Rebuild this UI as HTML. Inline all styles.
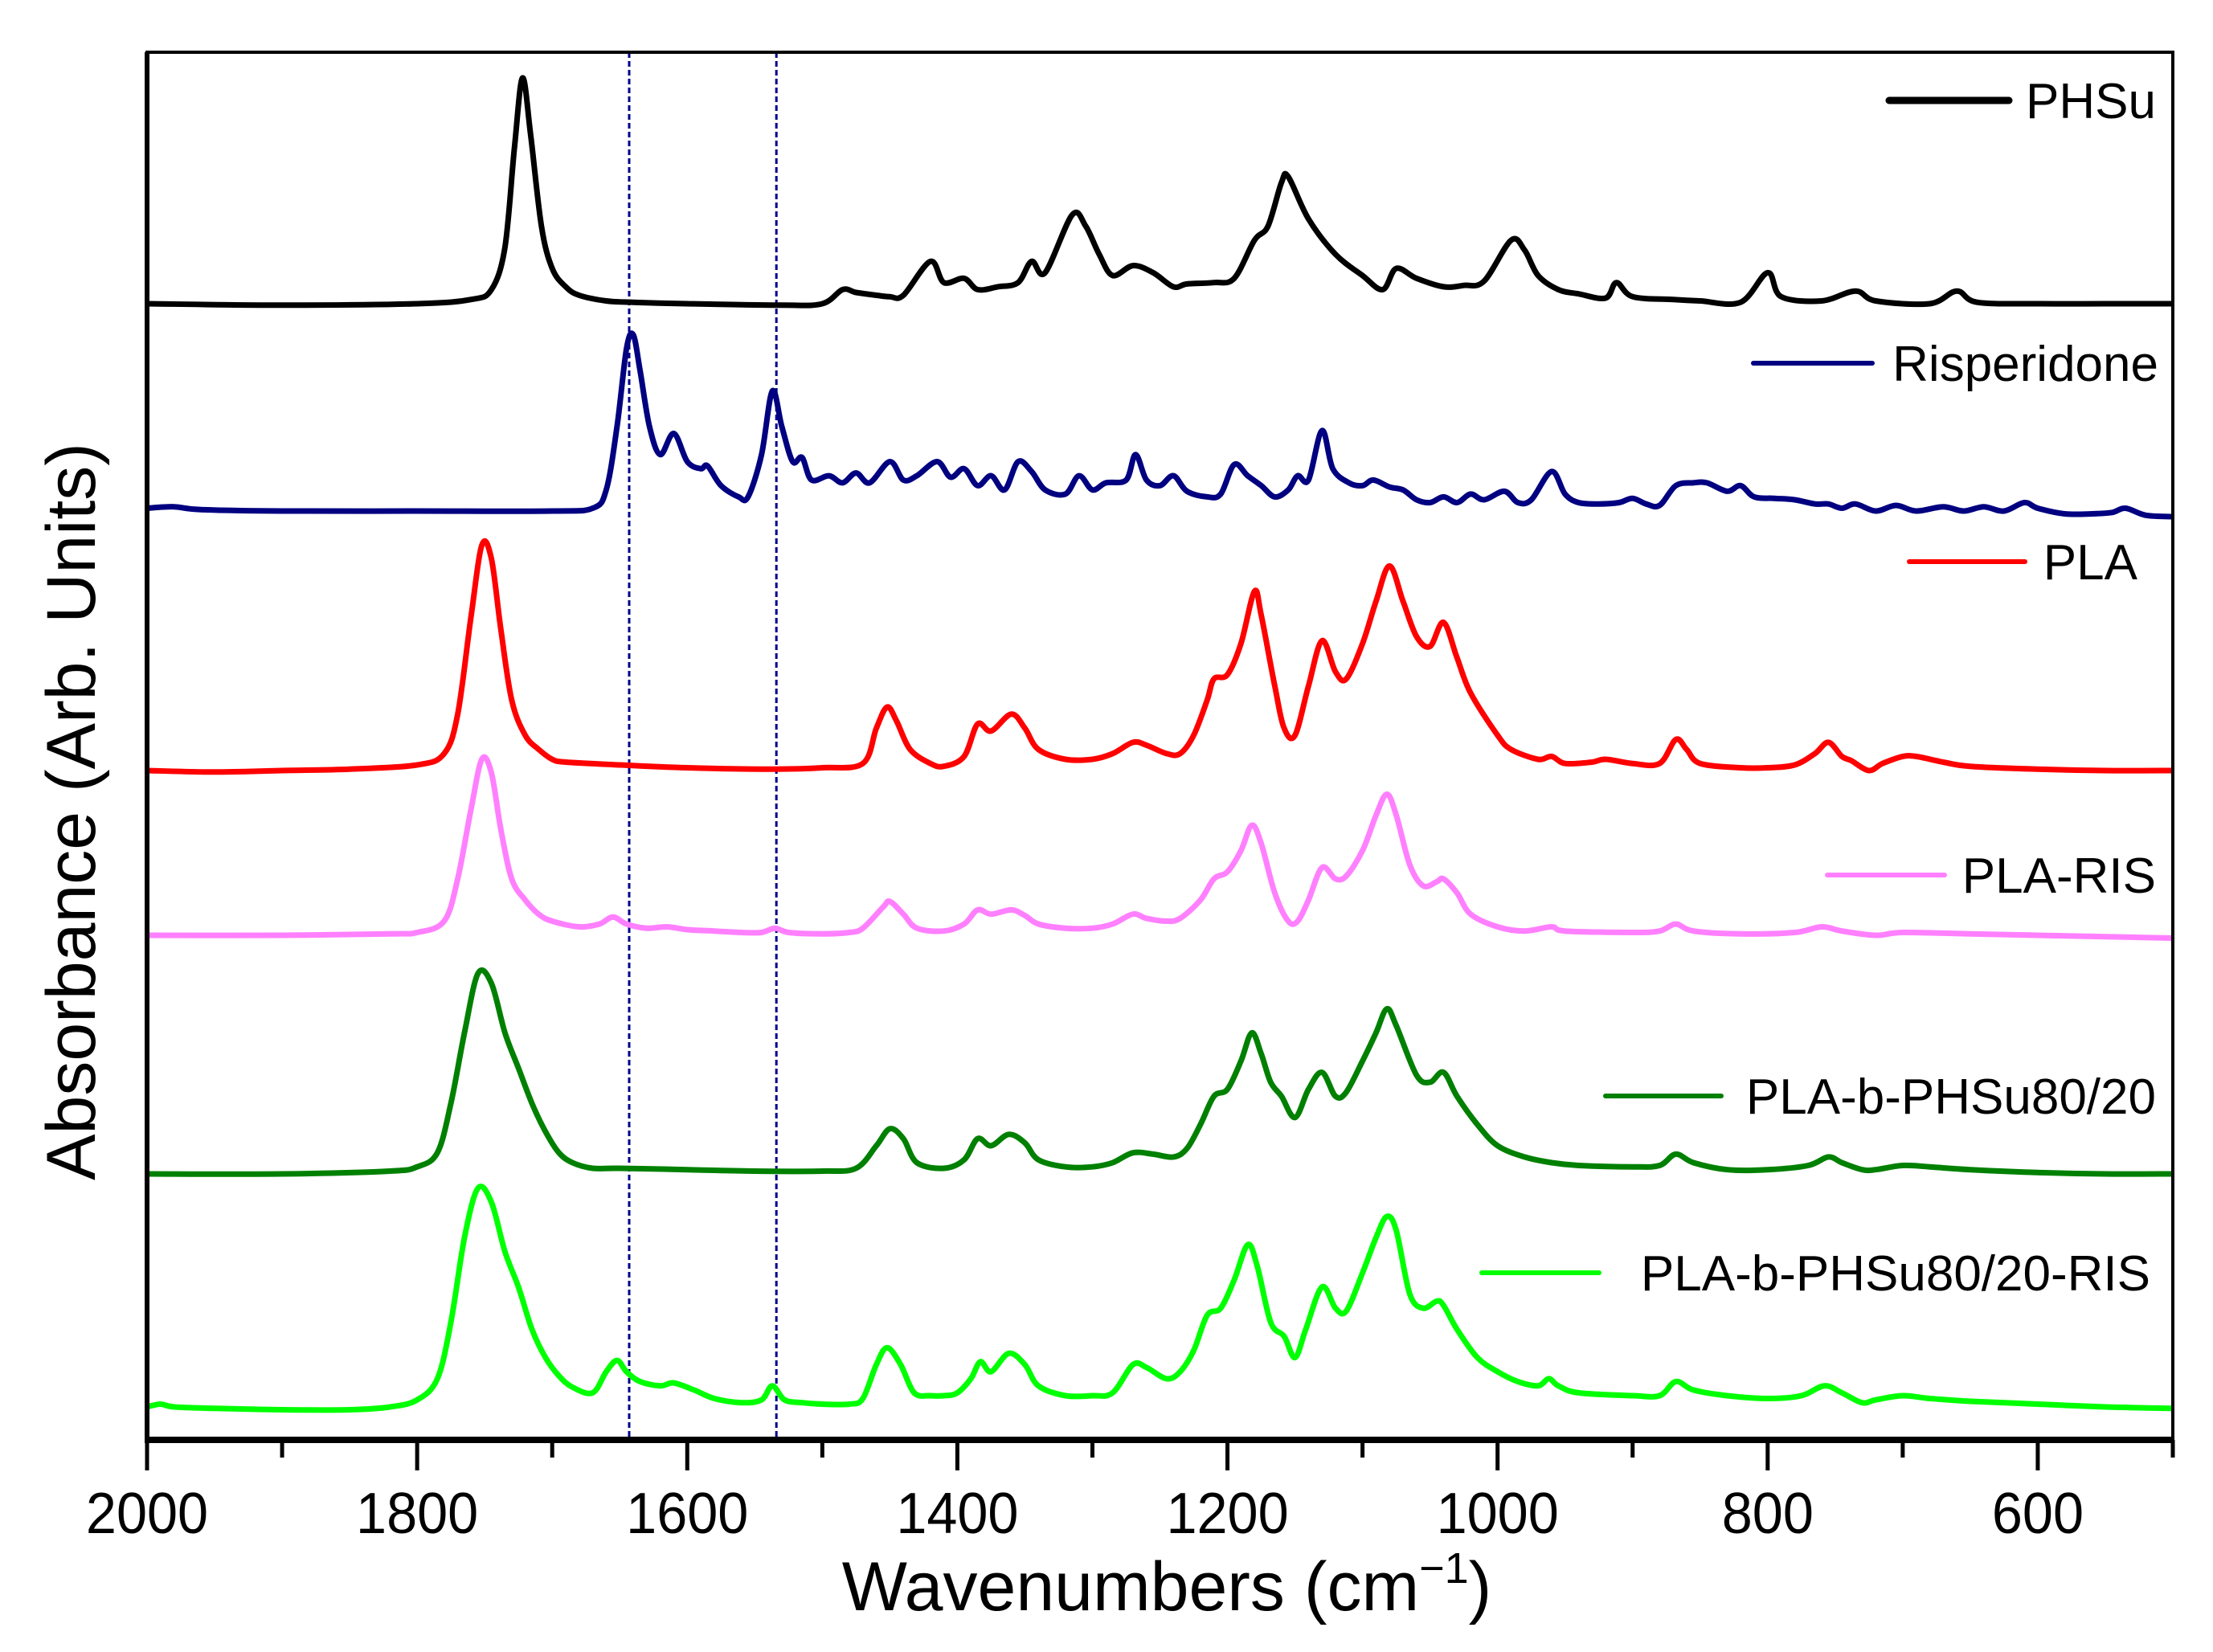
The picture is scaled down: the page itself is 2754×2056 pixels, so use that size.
<!DOCTYPE html>
<html><head><meta charset="utf-8">
<style>
html,body{margin:0;padding:0;background:#fff;}
svg{display:block;}
text{font-family:"Liberation Sans",Arial,sans-serif;}
</style></head>
<body>
<svg id="chart" width="2754" height="2056" viewBox="0 0 2754 2056" xmlns="http://www.w3.org/2000/svg">
<rect x="0" y="0" width="2754" height="2056" fill="#ffffff"/>
<g id="plot"></g>
</svg>
<script>
// ---- data ----
const xTicks = [2000, 1800, 1600, 1400, 1200, 1000, 800, 600];
const xMinor = [1900, 1700, 1500, 1300, 1100, 900, 700, 500];
const markerLines = [1643, 1534];
const seriesNames = ["PHSu", "Risperidone", "PLA", "PLA-RIS", "PLA-b-PHSu80/20", "PLA-b-PHSu80/20-RIS"];
const seriesColors = ["#000000", "#000080", "#ff0000", "#ff80ff", "#008000", "#00ff00"];
const seriesOffsets = [378, 636, 959, 1164, 1461, 1751];

const phsuWn = [2000,1900,1800,1760,1745,1735,1728,1722,1716,1708,1700,1690,1680,1660,1640,1600,1530,1500,1485,1475,1460,1450,1440,1420,1410,1395,1385,1370,1355,1345,1335,1315,1305,1295,1285,1270,1255,1240,1230,1210,1195,1180,1170,1160,1155,1140,1120,1100,1085,1075,1060,1040,1025,1010,990,980,970,955,940,920,912,900,870,850,820,800,790,760,735,720,680,660,645,600,550,500];
const phsuAbs = [0,-1,0,3,10,40,110,160,120,55,25,12,6,2,1,0,-1,0,10,8,6,5,6,30,15,18,10,12,15,30,22,63,55,35,20,27,22,12,14,15,18,45,55,86,90,60,35,20,10,25,18,12,13,16,45,38,20,10,7,4,15,5,3,2,1,22,5,2,9,2,0,9,1,0,0,0];

const risWn = [2000,1980,1960,1900,1800,1700,1670,1660,1652,1645,1640,1635,1628,1620,1610,1600,1590,1585,1575,1562,1555,1545,1537,1530,1522,1515,1508,1495,1485,1475,1465,1450,1440,1430,1415,1405,1395,1385,1375,1365,1355,1345,1335,1320,1310,1300,1290,1275,1268,1260,1250,1240,1230,1215,1205,1195,1185,1175,1165,1155,1148,1140,1130,1122,1110,1100,1092,1080,1070,1060,1050,1040,1030,1020,1010,995,985,975,960,950,940,925,910,900,890,880,868,855,845,830,820,810,795,780,765,755,745,735,720,705,690,670,655,640,625,610,600,580,560,545,535,520,500];
const risAbs = [2,3,1,0,0,0,2,15,60,115,125,100,60,40,55,35,30,32,18,10,10,40,85,60,35,38,22,25,20,27,20,35,22,25,35,24,30,18,25,15,35,28,15,12,25,15,20,22,40,22,18,25,14,10,12,33,25,18,10,15,25,22,57,30,20,18,22,17,15,8,6,10,6,12,8,14,6,8,28,12,6,5,6,9,5,4,18,20,20,14,18,10,9,8,5,5,2,5,0,4,0,3,0,3,0,6,2,-2,-2,-1,2,-3,-4];

const plaWn = [2000,1950,1900,1850,1800,1780,1770,1760,1752,1745,1738,1730,1720,1710,1700,1690,1650,1600,1540,1500,1470,1460,1452,1445,1435,1420,1410,1395,1385,1375,1360,1350,1340,1320,1300,1285,1270,1260,1245,1235,1225,1215,1210,1200,1190,1180,1175,1165,1158,1150,1140,1130,1120,1112,1100,1090,1080,1070,1060,1050,1040,1030,1020,1000,990,970,960,950,930,920,900,880,868,860,850,820,800,780,765,755,745,738,725,715,700,690,670,650,600,550,500];
const plaAbs = [0,-1,0,1,4,12,40,110,160,150,100,50,25,15,8,6,4,2,1,2,5,30,45,35,15,5,3,10,33,28,40,30,15,8,8,12,20,18,12,12,25,50,65,68,90,127,110,60,30,25,60,92,70,65,90,120,145,120,95,88,105,80,55,25,15,8,10,5,6,8,5,5,22,15,5,2,2,4,12,20,10,7,0,5,10,10,6,3,1,0,0];

const plaRisWn = [2000,1900,1820,1800,1780,1770,1760,1752,1745,1738,1730,1720,1710,1700,1680,1665,1655,1645,1630,1615,1600,1580,1560,1545,1535,1525,1500,1480,1470,1455,1450,1440,1430,1410,1395,1385,1375,1360,1350,1340,1320,1300,1285,1270,1260,1245,1235,1220,1210,1200,1190,1182,1175,1165,1155,1148,1140,1130,1120,1112,1100,1090,1082,1075,1065,1055,1045,1040,1030,1020,1000,980,960,950,900,880,868,855,820,780,760,745,720,700,650,600,550,500];
const plaRisAbs = [0,0,1,2,10,40,90,125,115,75,40,25,15,10,6,8,13,8,5,6,4,3,2,2,5,2,1,2,5,20,24,15,5,3,8,18,15,18,14,8,5,5,8,15,12,10,12,25,40,45,60,78,65,30,10,10,25,48,40,42,60,85,100,85,50,35,38,40,30,15,6,3,6,3,2,3,8,3,1,2,6,3,0,2,1,0,-1,-2];

const blendWn = [2000,1900,1820,1800,1785,1775,1765,1755,1745,1735,1725,1715,1705,1695,1685,1670,1650,1600,1550,1500,1475,1460,1450,1440,1430,1410,1395,1385,1375,1362,1350,1340,1320,1300,1285,1270,1255,1240,1230,1220,1210,1200,1190,1182,1175,1168,1160,1150,1140,1130,1120,1112,1100,1090,1082,1075,1060,1050,1040,1030,1015,1000,980,960,940,900,880,868,855,830,800,770,755,745,730,720,700,680,650,600,550,500];
const blendAbs = [0,0,2,5,15,50,100,142,135,100,75,50,30,15,8,4,4,3,2,2,4,20,32,25,8,4,10,25,20,28,22,10,5,5,8,15,14,12,18,35,55,60,80,100,85,65,55,40,60,72,55,58,80,100,117,105,70,65,72,55,35,20,12,8,6,5,6,14,8,3,3,6,12,8,3,3,6,5,3,1,0,0];

const blendRisWn = [2000,1990,1980,1950,1900,1850,1820,1800,1785,1775,1765,1755,1745,1735,1725,1715,1705,1695,1685,1670,1660,1652,1645,1635,1620,1610,1595,1580,1560,1545,1537,1528,1515,1500,1480,1470,1460,1452,1442,1432,1420,1410,1400,1390,1383,1375,1362,1350,1340,1320,1300,1285,1270,1260,1245,1235,1225,1215,1205,1195,1185,1178,1168,1158,1150,1142,1130,1120,1112,1100,1090,1082,1075,1065,1055,1045,1040,1030,1015,1000,985,970,962,955,940,900,880,868,855,830,800,775,758,745,730,720,700,680,650,600,550,500];
const blendRisAbs = [0,2,0,-1,-2,-2,0,5,20,60,120,155,145,110,85,55,35,22,14,10,25,33,25,18,15,17,12,6,3,5,15,5,3,2,2,6,30,42,30,10,8,8,10,20,32,25,38,30,15,8,8,10,30,28,20,25,40,65,70,90,115,100,60,50,35,55,85,70,68,95,120,135,125,80,70,75,72,55,35,25,18,15,20,15,10,8,8,18,12,8,6,8,15,10,3,5,8,6,4,2,0,-1];

const seriesWn = [phsuWn, risWn, plaWn, plaRisWn, blendWn, blendRisWn];
const seriesAbs = [phsuAbs, risAbs, plaAbs, plaRisAbs, blendAbs, blendRisAbs];

// ---- layout ----
const L = 183, R = 2704, T = 65, B = 1792;
const X0 = 2000, X1 = 500;
const yScale = 1.756;
function xPos(w){ return L + (X0 - w) / (X0 - X1) * (R - L); }
function yPos(i, v){ return seriesOffsets[i] - v * yScale; }

const NS = "http://www.w3.org/2000/svg";
const plot = document.getElementById("plot");
function mk(tag, attrs, parent){
  const e = document.createElementNS(NS, tag);
  for (const k in attrs) e.setAttribute(k, attrs[k]);
  (parent || plot).appendChild(e);
  return e;
}

const defs = mk("defs", {});
const cp = mk("clipPath", {id: "clip"}, defs);
mk("rect", {x: L, y: T, width: R - L, height: B - T}, cp);

markerLines.forEach((w, i) => {
  const ln = mk("line", {x1: xPos(w), x2: xPos(w), y1: T, y2: B, stroke: "#00008b", "stroke-width": 3, "stroke-dasharray": "7,4"});
  
  
});

function smoothPath(pts){
  let d = "M" + pts[0][0].toFixed(1) + "," + pts[0][1].toFixed(1);
  for (let i = 0; i < pts.length - 1; i++){
    const p0 = pts[Math.max(0, i - 1)], p1 = pts[i], p2 = pts[i + 1], p3 = pts[Math.min(pts.length - 1, i + 2)];
    const c1x = p1[0] + (p2[0] - p0[0]) / 6, c1y = p1[1] + (p2[1] - p0[1]) / 6;
    const c2x = p2[0] - (p3[0] - p1[0]) / 6, c2y = p2[1] - (p3[1] - p1[1]) / 6;
    d += " C" + c1x.toFixed(1) + "," + c1y.toFixed(1) + " " + c2x.toFixed(1) + "," + c2y.toFixed(1) + " " + p2[0].toFixed(1) + "," + p2[1].toFixed(1);
  }
  return d;
}

const g = mk("g", {"clip-path": "url(#clip)"});
seriesNames.forEach((name, i) => {
  const pts = seriesWn[i].map((w, j) => [xPos(w), yPos(i, seriesAbs[i][j])]);
  const p = mk("path", {d: smoothPath(pts), fill: "none", stroke: seriesColors[i], "stroke-width": 7, "stroke-linejoin": "round", "stroke-linecap": "round"}, g);
  
  
});

const fr = mk("rect", {x: L, y: T, width: R - L, height: B - T, fill: "none", stroke: "#000", "stroke-width": 4});


const xa = mk("line", {x1: L - 3, x2: R + 2, y1: B, y2: B, stroke: "#000", "stroke-width": 8});


const ya = mk("line", {x1: L, x2: L, y1: T, y2: B + 4, stroke: "#000", "stroke-width": 6});



xTicks.forEach(w => {
  const t = mk("line", {x1: xPos(w), x2: xPos(w), y1: B, y2: B + 38, stroke: "#000", "stroke-width": 5});
  
  
  const lb = mk("text", {x: 0, y: 0, "font-size": 72, "text-anchor": "middle", fill: "#000", transform: "translate(" + xPos(w) + "," + (B + 116) + ") scale(0.95,1)"});
  lb.textContent = w;
  
  
});
xMinor.forEach(w => {
  const t = mk("line", {x1: xPos(w), x2: xPos(w), y1: B, y2: B + 22, stroke: "#000", "stroke-width": 5});
  
  
});

const xt = mk("text", {x: 1452, y: 2004, "font-size": 86, "text-anchor": "middle", fill: "#000"});
xt.innerHTML = 'Wavenumbers (cm<tspan dy="-34" font-size="54">−1</tspan><tspan dy="34">)</tspan>';


const yt = mk("text", {x: 0, y: 0, "font-size": 86, "text-anchor": "middle", fill: "#000", transform: "translate(118,1010) rotate(-90)"});
yt.textContent = "Absorbance (Arb. Units)";



const legLineX = [[2351, 2500], [2182, 2330], [2376, 2520], [2274, 2420], [1998, 2142], [1844, 1990]];
const legY = [125, 452, 699, 1089, 1364, 1584];
const legTextEnd = [2683, 2686, 2660, 2683, 2683, 2676];
seriesNames.forEach((name, i) => {
  const lg = mk("g", {});
  
  
  mk("line", {x1: legLineX[i][0], x2: legLineX[i][1], y1: legY[i], y2: legY[i], stroke: seriesColors[i], "stroke-width": i === 0 ? 9 : 6, "stroke-linecap": "round"}, lg);
  const tx = mk("text", {x: legTextEnd[i], y: legY[i] + 22, "font-size": 62, "text-anchor": "end", fill: "#000"}, lg);
  tx.textContent = name;
});
</script>
</body></html>
